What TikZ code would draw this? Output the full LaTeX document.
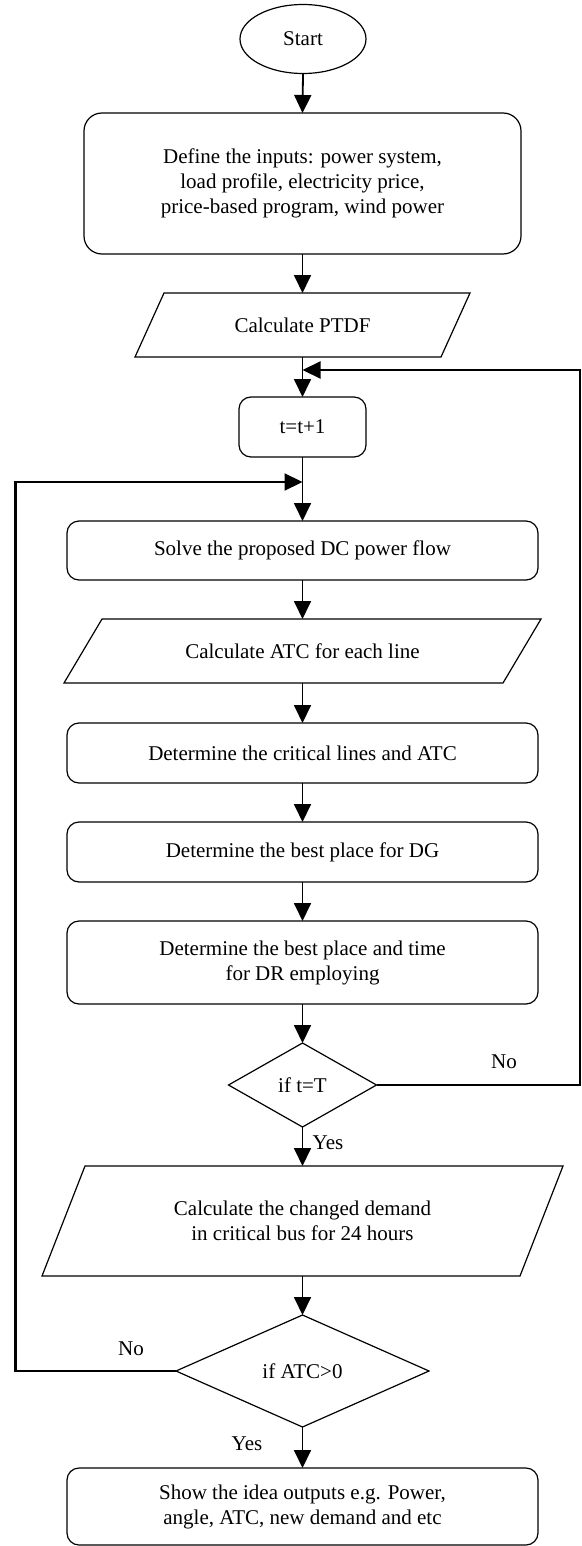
\documentclass[tikz,border=0pt]{standalone}
\usepackage{fontspec}
\setmainfont{Liberation Serif}
\usetikzlibrary{shapes.geometric,arrows.meta}
\begin{document}
\begin{tikzpicture}[x=1pt,y=-1pt,
  base/.style={font=\fontsize{21}{25}\selectfont, align=center, inner sep=0pt, outer sep=0pt},
  shapeline/.style={line width=1.2pt},
  rbox/.style={base, draw, shapeline, rounded corners=12pt, minimum width=471pt, minimum height=60pt},
  para/.style={base, minimum height=64pt},
  decision/.style={base, draw, shapeline, diamond},
  arr/.style={line width=1.8pt, -{Triangle[length=18pt,width=17pt]}},
  loopline/.style={line width=2.2pt},
  looparr/.style={line width=2.2pt, -{Triangle[length=18pt,width=17pt]}}
]
\useasboundingbox (0,0) rectangle (581,1546);

\node[base, draw, shapeline, ellipse, minimum width=126pt, minimum height=69pt] (start) at (303,39) {Start};
\node[rbox, rounded corners=18pt, minimum width=437pt, minimum height=141pt] (inputs) at (302.5,183.5)
  {Define the inputs: power system,\\load profile, electricity price,\\price-based program, wind power};
\node[para, minimum width=335pt] (ptdf) at (302.5,325) {Calculate PTDF};
\draw[shapeline] ([xshift=29pt]ptdf.north west) -- (ptdf.north east) -- ([xshift=-29pt]ptdf.south east) -- (ptdf.south west) -- cycle;
\coordinate (j1) at (302.5,370);
\node[rbox, minimum width=127pt, minimum height=60pt] (tinc) at (302.5,427) {t=t+1};
\coordinate (j2) at (302.5,482);
\node[rbox, minimum height=59pt] (solve) at (302.5,550.5) {Solve the proposed DC power flow};
\node[para, minimum width=477pt] (atc) at (302.5,651) {Calculate ATC for each line};
\draw[shapeline] ([xshift=38pt]atc.north west) -- (atc.north east) -- ([xshift=-38pt]atc.south east) -- (atc.south west) -- cycle;
\node[rbox] (crit) at (302.5,753) {Determine the critical lines and ATC};
\node[rbox] (dg) at (302.5,852) {Determine the best place for DG};
\node[rbox, minimum height=83pt] (dr) at (302.5,962.5) {Determine the best place and time\\for DR employing};
\node[decision, minimum width=148pt, minimum height=84pt] (tT) at (302.5,1085) {if t=T};
\node[para, minimum width=521pt, minimum height=110pt] (dem) at (302.5,1221) {Calculate the changed demand\\in critical bus for 24 hours};
\draw[shapeline] ([xshift=43pt]dem.north west) -- (dem.north east) -- ([xshift=-43pt]dem.south east) -- (dem.south west) -- cycle;
\node[decision, minimum width=253pt, minimum height=112pt] (atcz) at (302.5,1371) {if ATC>0};
\node[rbox, minimum height=77pt] (out) at (302.5,1506.5) {Show the idea outputs e.g. Power,\\angle, ATC, new demand and etc};

\coordinate (rt1) at (580,1085);
\coordinate (rt2) at (580,370);
\coordinate (lf1) at (15.5,1371);
\coordinate (lf2) at (15.5,482);

\draw[arr] (start.south) -- (inputs.north);
\draw[arr] (inputs.south) -- (ptdf.north);
\draw[arr] (ptdf.south) -- (tinc.north);
\draw[arr] (tinc.south) -- (solve.north);
\draw[arr] (solve.south) -- (atc.north);
\draw[arr] (atc.south) -- (crit.north);
\draw[arr] (crit.south) -- (dg.north);
\draw[arr] (dg.south) -- (dr.north);
\draw[arr] (dr.south) -- (tT.north);
\draw[arr] (tT.south) -- (dem.north);
\draw[arr] (dem.south) -- (atcz.north);
\draw[arr] (atcz.south) -- (out.north);

\draw[looparr] (tT.east) -- (rt1) -- (rt2) -- (j1);
\draw[looparr] (atcz.west) -- (lf1) -- (lf2) -- (j2);

\node[base] (no1) at (504,1062) {No};
\node[base] (yes1) at (328,1143) {Yes};
\node[base] (no2) at (131,1349) {No};
\node[base] (yes2) at (247,1444) {Yes};
\end{tikzpicture}
\end{document}
